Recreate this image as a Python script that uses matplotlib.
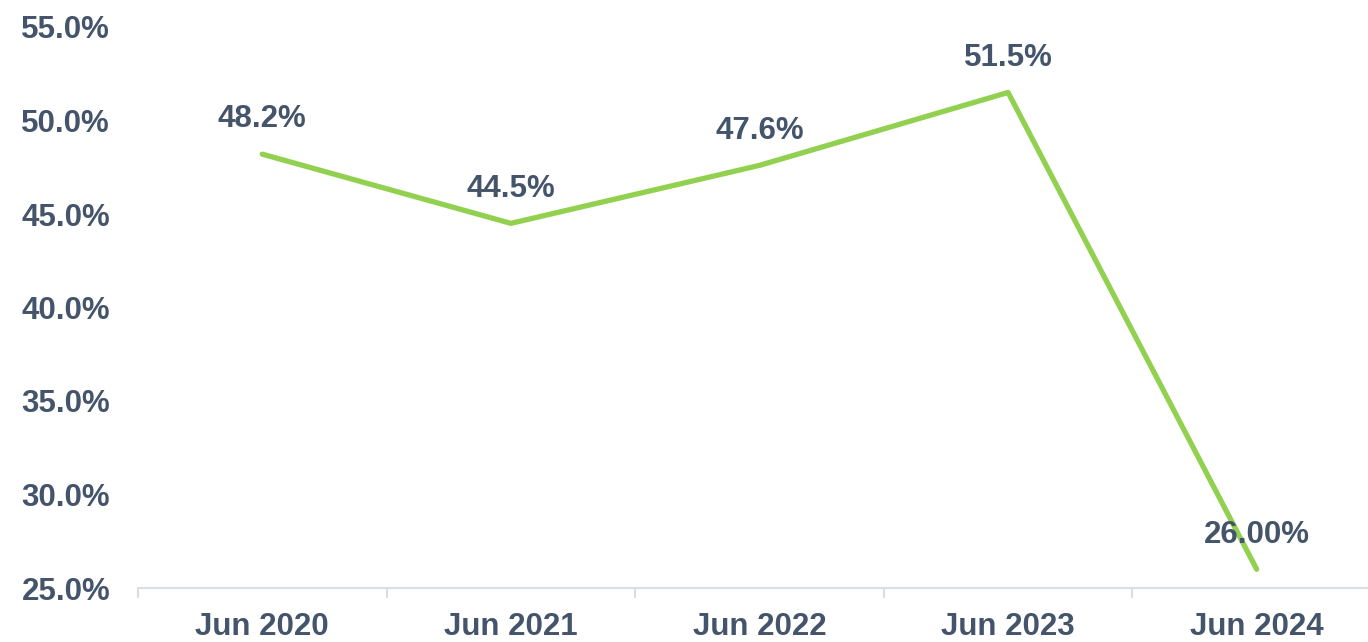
import numpy as np
import matplotlib.pyplot as plt
from matplotlib.ticker import FixedLocator, FuncFormatter

# data
categories = ["Jun 2020", "Jun 2021", "Jun 2022", "Jun 2023", "Jun 2024"]
values = [48.2, 44.5, 47.6, 51.5, 26.0]
value_labels = ["48.2%", "44.5%", "47.6%", "51.5%", "26.00%"]
y_ticks = [25, 30, 35, 40, 45, 50, 55]

TEXT = "#44546a"
GREEN = "#92d050"
AXIS = "#d9dde4"

plt.rcParams["font.family"] = ["Liberation Sans", "DejaVu Sans"]
plt.rcParams["font.weight"] = "bold"

fig = plt.figure(figsize=(13.68, 6.42), dpi=100)
ax = fig.add_axes([138 / 1368, 54 / 642, 1 - 138 / 1368, (588 - 27) / 642])

x = np.arange(len(categories))
ax.plot(x, values, color=GREEN, lw=3.8, solid_capstyle="round", zorder=2)

for xi, v, lab in zip(x, values, value_labels):
    ax.annotate(lab, (xi, v), xytext=(0, 25), textcoords="offset points",
                ha="center", va="center", fontsize=22.5, fontweight="bold",
                color=TEXT, zorder=3)

ax.set_ylim(25, 55)
ax.set_xlim(-0.5, 4.5 - 13 / 248.6)
ax.set_yticks(y_ticks)
ax.yaxis.set_major_formatter(FuncFormatter(lambda v, p: f"{v:.1f}%"))
ax.tick_params(axis="y", length=0, pad=20, labelsize=22.5, labelcolor=TEXT)

ax.set_xticks(x)
ax.set_xticklabels(categories)
ax.xaxis.set_minor_locator(FixedLocator(np.arange(-0.5, 4.6, 1.0)))
ax.tick_params(axis="x", which="major", length=0, pad=17, labelsize=22.5, labelcolor=TEXT)
ax.tick_params(axis="x", which="minor", length=7, width=1.5, color=AXIS)

for s in ["top", "right", "left"]:
    ax.spines[s].set_visible(False)
ax.spines["bottom"].set_color(AXIS)
ax.spines["bottom"].set_linewidth(1.5)
ax.set_facecolor("white")

fig.savefig("out.png", dpi=100, facecolor="white")
